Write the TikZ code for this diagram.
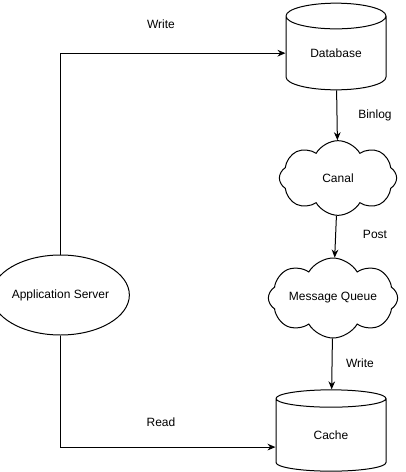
\documentclass[tikz,border=0pt]{standalone}
\usepackage{fontspec}
\setmainfont{Liberation Sans}
\usetikzlibrary{shapes.geometric,shapes.symbols,arrows.meta}
\begin{document}
\begin{tikzpicture}[x=0.75pt,y=-0.75pt,line width=0.75pt,
    font=\fontsize{9pt}{11pt}\selectfont,
    store/.style={draw,cylinder,shape border rotate=90,aspect=0.5,inner sep=0pt},
    puff/.style={draw,cloud,cloud puffs=8,cloud puff arc=120,cloud ignores aspect,inner sep=0pt},
    link/.style={-{Stealth[length=6pt,width=5pt]}}]
    \useasboundingbox (0,0) rectangle (406,472);

    % stores
    \node[store,minimum width=75pt,minimum height=65pt,anchor=shape center] (db) at (336,46.5) {Database};
    \node[store,minimum width=82.5pt,minimum height=61pt,anchor=shape center] (cache) at (331,430.5) {Cache};

    % clouds
    \node[puff,minimum width=88pt,minimum height=56pt] (canal) at (338,178) {Canal};
    \node[puff,minimum width=97pt,minimum height=60pt] (mq) at (333,298) {Message Queue};

    \node[draw,ellipse,minimum width=90pt,minimum height=60pt,inner sep=0pt] (app) at (60.5,295) {Application Server};

    % links
    \draw[link] (app) |- (db);
    \node (wtop) at (161,24) {Write};
    \draw[link] (app) |- ([yshift=-9pt]cache.west);
    \node (read) at (161,422) {Read};

    \draw[link] (db) -- (canal);
    \node (binlog) at (375,115) {Binlog};
    \draw[link] (canal) -- (mq);
    \node (post) at (375,234) {Post};
    \draw[link] (mq) -- (cache);
    \node (wlow) at (360,363) {Write};
\end{tikzpicture}
\end{document}
